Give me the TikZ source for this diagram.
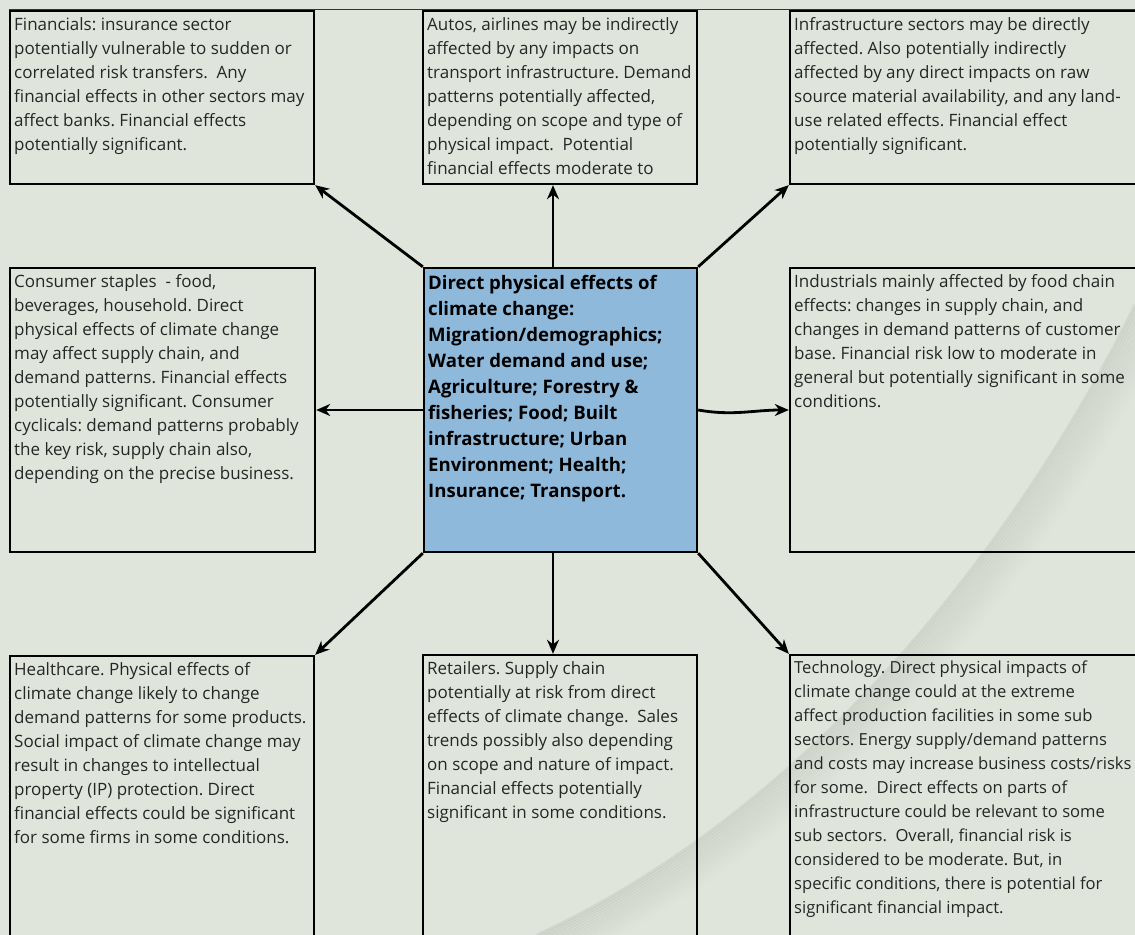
\documentclass[tikz,border=0pt]{standalone}
\usepackage{fontspec}
\setmainfont{Open Sans}
\frenchspacing
\usetikzlibrary{fit,arrows.meta}

\definecolor{bgpage}{RGB}{223,229,218}
\definecolor{hubblue}{RGB}{142,185,218}

\tikzset{
  sector/.style={draw=black, line width=1.2pt, inner sep=0pt},
  sector text/.style={anchor=north west, inner sep=0pt, align=left, text=black!85,
    font=\fontsize{8.5}{12}\selectfont, xshift=2.5pt, yshift=-3.5pt},
  hub/.style={sector, fill=hubblue},
  hub text/.style={sector text, text=black, font=\fontsize{9.3}{13}\selectfont\bfseries, yshift=-0.5pt},
  link/.style={->, line width=1.4pt},
}

\begin{document}
\begin{tikzpicture}[x=0.5pt, y=-0.5pt, >={Stealth[length=7pt,width=6pt]}]

\path[use as bounding box, fill=bgpage] (0,0) rectangle (1135,935);

% page curl
\foreach \k in {0,...,15}
  \draw[black, opacity={0.06*(1-\k/16)}, line width=1.5pt, shift={(\k*2.2,\k*1.6)}]
    (1135,305) .. controls (1050,480) and (850,790) .. (537,935);

\node[sector, fit={(10,11) (314,184)}] (fin) {};
\node[sector, fit={(423,11) (697,184)}] (autos) {};
\node[sector, fit={(790,11) (1145,184)}] (infra) {};
\node[sector, fit={(10,268) (315,552)}] (staples) {};
\node[hub, fit={(424,268) (697,552)}] (hub) {};
\node[sector, fit={(790,268) (1145,552)}] (indus) {};
\node[sector, fit={(10,656) (314,945)}] (health) {};
\node[sector, fit={(423,655) (697,945)}] (retail) {};
\node[sector, fit={(790,655) (1145,945)}] (tech) {};

\draw[line width=0.6pt, black!80] (fin.north west) -- (fin.north west -| infra.north east);

\node[sector text] (fin-t) at (fin.north west) {Financials: insurance sector\\
  potentially vulnerable to sudden or\\
  correlated risk transfers.\ \ Any\\
  financial effects in other sectors may\\
  affect banks. Financial effects\\
  potentially significant.};
\node[sector text] (autos-t) at (autos.north west) {Autos, airlines may be indirectly\\
  affected by any impacts on\\
  transport infrastructure. Demand\\
  patterns potentially affected,\\
  depending on scope and type of\\
  physical impact.\ \ Potential\\
  financial effects moderate to};
\node[sector text] (infra-t) at (infra.north west) {Infrastructure sectors may be directly\\
  affected. Also potentially indirectly\\
  affected by any direct impacts on raw\\
  source material availability, and any land-\\
  use related effects. Financial effect\\
  potentially significant.};
\node[sector text] (staples-t) at (staples.north west) {Consumer staples\ \ - food,\\
  beverages, household. Direct\\
  physical effects of climate change\\
  may affect supply chain, and\\
  demand patterns. Financial effects\\
  potentially significant. Consumer\\
  cyclicals: demand patterns probably\\
  the key risk, supply chain also,\\
  depending on the precise business.};
\node[hub text] (hub-t) at (hub.north west) {Direct physical effects of\\
  climate change:\\
  Migration/demographics;\\
  Water demand and use;\\
  Agriculture; Forestry \&\\
  fisheries; Food; Built\\
  infrastructure; Urban\\
  Environment; Health;\\
  Insurance; Transport.};
\node[sector text] (indus-t) at (indus.north west) {Industrials mainly affected by food chain\\
  effects: changes in supply chain, and\\
  changes in demand patterns of customer\\
  base. Financial risk low to moderate in\\
  general but potentially significant in some\\
  conditions.};
\node[sector text] (health-t) at (health.north west) {Healthcare. Physical effects of\\
  climate change likely to change\\
  demand patterns for some products.\\
  Social impact of climate change may\\
  result in changes to intellectual\\
  property (IP) protection. Direct\\
  financial effects could be significant\\
  for some firms in some conditions.};
\node[sector text] (retail-t) at (retail.north west) {Retailers. Supply chain\\
  potentially at risk from direct\\
  effects of climate change.\ \ Sales\\
  trends possibly also depending\\
  on scope and nature of impact.\\
  Financial effects potentially\\
  significant in some conditions.};
\node[sector text, font=\fontsize{8.3}{12}\selectfont] (tech-t) at (tech.north west) {Technology. Direct physical impacts of\\
  climate change could at the extreme\\
  affect production facilities in some sub\\
  sectors. Energy supply/demand patterns\\
  and costs may increase business costs/risks\\
  for some.\ \ Direct effects on parts of\\
  infrastructure could be relevant to some\\
  sub sectors.\ \ Overall, financial risk is\\
  considered to be moderate. But, in\\
  specific conditions, there is potential for\\
  significant financial impact.};

\foreach \a/\b in {hub.north west/fin.south east, hub.north east/infra.south west,
                   hub.west/staples.east, hub.south west/health.north east,
                   hub.south east/tech.north west}
  \draw[link] (\a) -- (\b);
\draw[link] (hub.93) -- (hub.93 |- autos.south);
\draw[link] (hub.-93) -- (hub.-93 |- retail.north);
\draw[link] (hub.east) to[out=-10, in=180] (indus.west);

\end{tikzpicture}
\end{document}
